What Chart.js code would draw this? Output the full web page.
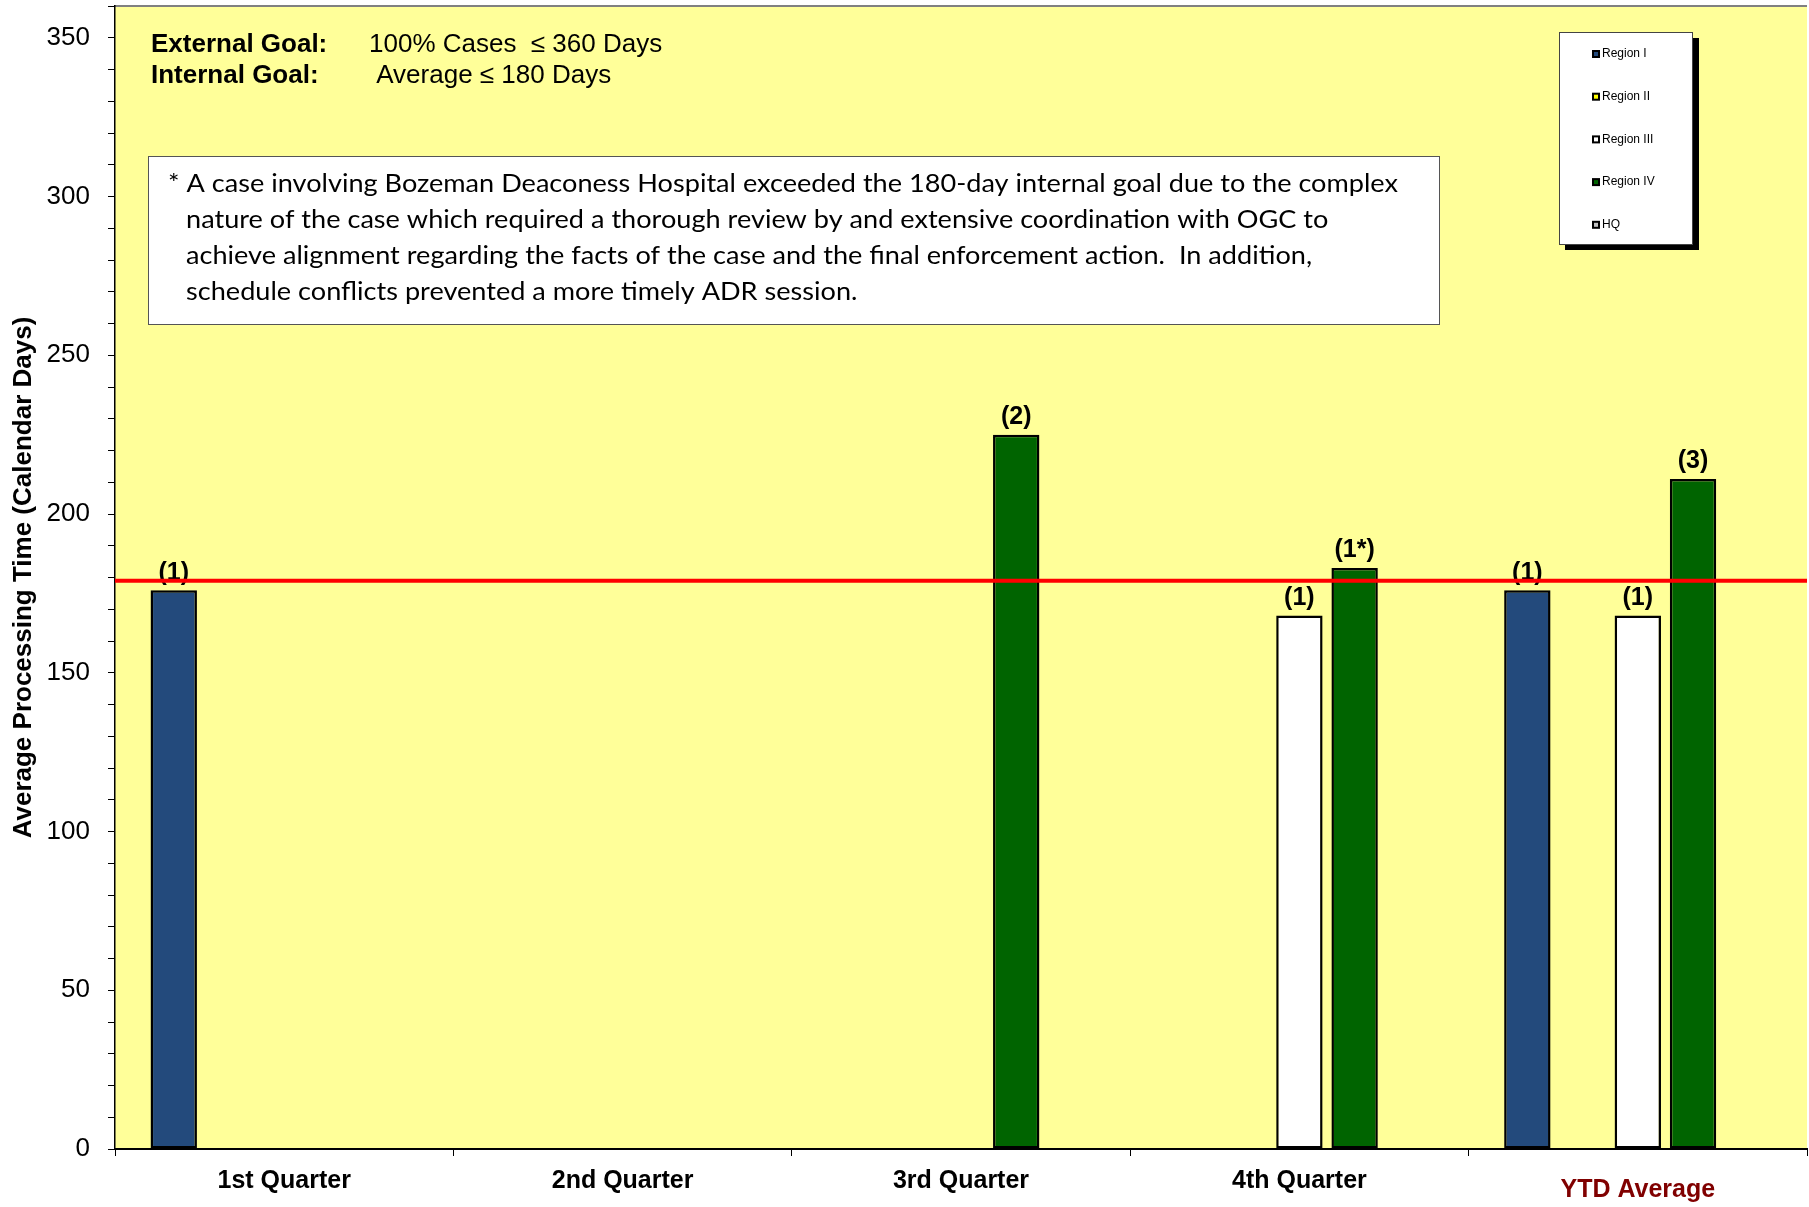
<!DOCTYPE html>
<html lang="en">
<head>
<meta charset="UTF-8">
<script src="https://cdn.jsdelivr.net/npm/chart.js@4.4.0/dist/chart.umd.min.js"></script>
<title>Average Processing Time</title>
<style>
  body { margin: 0; background: #fff; }
</style>
</head>
<body>
<canvas id="chart" width="1809" height="1207"></canvas>
<script>
// categories and values
const categories = ['1st Quarter', '2nd Quarter', '3rd Quarter', '4th Quarter', ['', 'YTD Average']];
const regionI   = [176, null, null, null, 176];
const regionII  = [null, null, null, null, null];
const regionIII = [null, null, null, 168, 168];
const regionIV  = [null, null, 225, 183, 211];
const hq        = [null, null, null, null, null];

// case counts printed above bars
const countsI   = ['(1)', null, null, null, '(1)'];
const countsIII = [null, null, null, '(1)', '(1)'];
const countsIV  = [null, null, '(2)', '(1*)', '(3)'];

const internalGoal = 179;
const yMax = 360;

const goalLines = [
  ['External Goal:', '100% Cases  \u2264 360 Days'],
  ['Internal Goal:', ' Average \u2264 180 Days']
];
const noteLines = [
  '* A case involving Bozeman Deaconess Hospital exceeded the 180-day internal goal due to the complex',
  'nature of the case which required a thorough review by and extensive coordination with OGC to',
  'achieve alignment regarding the facts of the case and the final enforcement action.  In addition,',
  'schedule conflicts prevented a more timely ADR session.'
];

function bar(label, data, color, counts) {
  return {
    label: label,
    data: data,
    counts: counts,
    backgroundColor: color,
    borderColor: '#000',
    borderWidth: 2.5,
    borderSkipped: false,
    barPercentage: 0.84,
    categoryPercentage: 0.816
  };
}

const plotBg = {
  id: 'plotBg',
  beforeDraw(chart) {
    const { ctx, chartArea: a } = chart;
    ctx.save();
    ctx.fillStyle = '#FFFF99';
    ctx.fillRect(a.left, a.top, a.right - a.left, a.bottom - a.top);
    ctx.strokeStyle = '#808080';
    ctx.lineWidth = 2;
    ctx.beginPath();
    ctx.moveTo(a.left, a.top);
    ctx.lineTo(a.right, a.top);
    ctx.stroke();
    ctx.restore();
  }
};

const extras = {
  id: 'extras',
  afterDatasetsDraw(chart) {
    const { ctx, chartArea: a } = chart;
    const y = chart.scales.y;
    ctx.save();

    // counts above bars
    ctx.font = 'bold 25px "Liberation Sans", Arial, sans-serif';
    ctx.fillStyle = '#000';
    ctx.textAlign = 'center';
    ctx.textBaseline = 'bottom';
    chart.data.datasets.forEach((ds, i) => {
      if (!ds.counts) return;
      chart.getDatasetMeta(i).data.forEach((el, j) => {
        if (ds.counts[j] && ds.data[j] != null) ctx.fillText(ds.counts[j], el.x, el.y - 5);
      });
    });

    // internal goal line
    const gy = y.getPixelForValue(internalGoal);
    ctx.strokeStyle = '#FF0000';
    ctx.lineWidth = 4;
    ctx.beginPath();
    ctx.moveTo(a.left, gy);
    ctx.lineTo(a.right, gy);
    ctx.stroke();

    // goal text
    ctx.textAlign = 'left';
    ctx.textBaseline = 'middle';
    goalLines.forEach((l, i) => {
      const ty = 45 + i * 31;
      ctx.font = 'bold 26px "Liberation Sans", Arial, sans-serif';
      ctx.fillText(l[0], 151, ty);
      ctx.font = '26px "Liberation Sans", Arial, sans-serif';
      ctx.fillText(l[1], 369, ty);
    });

    // note box
    ctx.fillStyle = '#fff';
    ctx.fillRect(148, 156, 1291, 168);
    ctx.strokeStyle = '#555';
    ctx.lineWidth = 1;
    ctx.strokeRect(148.5, 156.5, 1291, 168);
    ctx.fillStyle = '#000';
    ctx.font = '25px Lato, "Noto Sans", sans-serif';
    const sx = 1230 / ctx.measureText(noteLines[0]).width;
    noteLines.forEach((l, i) => {
      ctx.save();
      ctx.translate(i === 0 ? 168 : 186, 184 + i * 36);
      ctx.scale(sx, 1);
      ctx.fillText(l, 0, 0);
      ctx.restore();
    });

    // legend
    ctx.fillStyle = '#000';
    ctx.fillRect(1565, 38, 134, 212);
    ctx.fillStyle = '#fff';
    ctx.fillRect(1559, 32, 133, 212);
    ctx.strokeStyle = '#444';
    ctx.strokeRect(1559.5, 32.5, 133, 212);
    ctx.font = '12px "Liberation Sans", Arial, sans-serif';
    chart.data.datasets.forEach((ds, i) => {
      const ly = 54 + i * 42.7;
      ctx.fillStyle = '#000';
      ctx.fillRect(1592, ly - 4, 8, 8);
      ctx.fillStyle = ds.backgroundColor;
      ctx.fillRect(1594, ly - 2, 4, 4);
      ctx.fillStyle = '#000';
      ctx.fillText(ds.label, 1602, ly);
    });
    ctx.restore();
  }
};

const chart = new Chart(document.getElementById('chart').getContext('2d'), {
  type: 'bar',
  data: {
    labels: categories,
    datasets: [
      bar('Region I', regionI, '#234A7C', countsI),
      bar('Region II', regionII, '#FFFF00', null),
      bar('Region III', regionIII, '#FFFFFF', countsIII),
      bar('Region IV', regionIV, '#006400', countsIV),
      bar('HQ', hq, '#C0C0C0', null)
    ]
  },
  options: {
    responsive: false,
    animation: false,
    layout: { padding: { top: 6, right: 2, left: 0, bottom: 0 } },
    plugins: {
      legend: { display: false },
      tooltip: { enabled: false }
    },
    scales: {
      x: {
        grid: { drawOnChartArea: false, drawTicks: true, tickLength: 7, color: '#000', offset: true },
        border: { color: '#000', width: 2 },
        ticks: {
          padding: 10,
          font: c => ({
            family: '"Liberation Sans", Arial, sans-serif', size: 25, weight: 'bold',
            lineHeight: c.index === 4 ? 0.64 : 1.2
          }),
          color: c => c.index === 4 ? '#800000' : '#000'
        },
        afterFit(s) { s.height = 58; s.paddingLeft = 0; s.paddingRight = 0; }
      },
      y: {
        min: 0,
        max: yMax,
        grid: { drawOnChartArea: false, drawTicks: true, tickLength: 7, color: '#000' },
        border: { color: '#000', width: 1.5 },
        ticks: {
          stepSize: 10,
          autoSkip: false,
          padding: 18,
          font: { family: '"Liberation Sans", Arial, sans-serif', size: 26 },
          color: '#000',
          callback: v => (v % 50 === 0 && v <= 350) ? v : ''
        },
        title: {
          display: true,
          text: 'Average Processing Time (Calendar Days)',
          font: { family: '"Liberation Sans", Arial, sans-serif', size: 26, weight: 'bold' },
          color: '#000',
          padding: { top: 8, bottom: 0 }
        },
        afterFit(s) { s.width = 115; s.paddingTop = 0; s.paddingBottom = 0; }
      }
    }
  },
  plugins: [plotBg, extras]
});
</script>
</body>
</html>
